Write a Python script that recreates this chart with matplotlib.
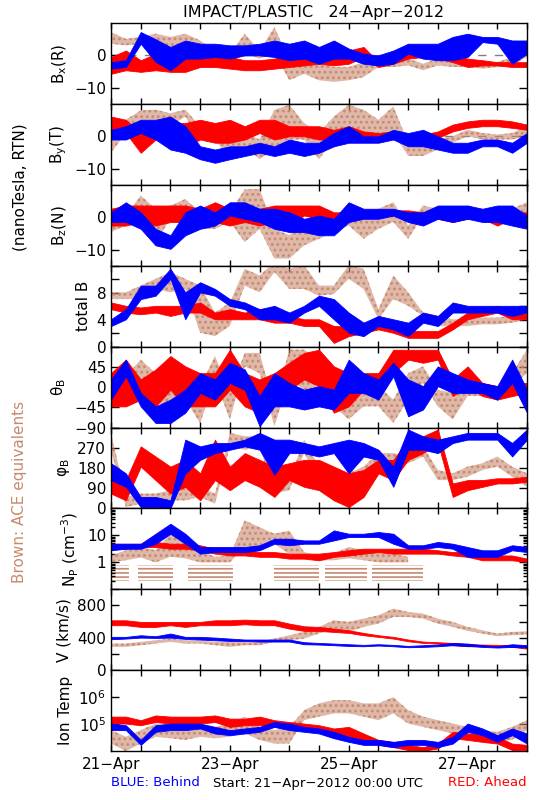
import numpy as np
import matplotlib
matplotlib.use("Agg")
import matplotlib.pyplot as plt
from matplotlib.ticker import LogLocator, NullFormatter

BLUE, RED, BROWN = "#0000ff", "#ff0000", "#c8896e"

# sample times: days since 21-Apr-2012 00:00 UTC, every 6 h
days = np.arange(29) * 0.25
day_ticks = [0, 2, 4, 6]
day_labels = ["21\u2212Apr", "23\u2212Apr", "25\u2212Apr", "27\u2212Apr"]

# envelopes (lo, hi); blue = STEREO Behind, red = Ahead,
# brown = ACE
bx_blue_lo = [-4.1, -3.6, 3.6, -2.0, -4.6, -1.0, -1.0, -0.5, -1.0, 0.0, 0.0, -0.5, -1.5, -1.0, -2.6,
              -1.0, -1.0, -2.6, -3.1, -2.6, 0.5, -1.0, -1.5, -1.5, -0.5, 4.1, 3.6, -2.6, 0.5]
bx_blue_hi = [-2.1, -1.5, 7.2, 5.0, 2.6, 4.6, 3.6, 3.6, 3.1, 3.1, 3.6, 4.6, 3.6, 4.6, 2.6,
              4.6, 2.1, 0.5, 0.0, 1.5, 3.6, 3.6, 3.6, 5.7, 6.7, 5.7, 5.7, 4.6, 4.6]
bx_red_lo = [-5.7, -4.6, -5.1, -4.6, -5.1, -5.1, -3.6, -3.6, -4.1, -4.6, -4.6, -4.1, -3.6, -3.1, -2.6,
             -3.1, -2.6, -0.5, -3.6, -2.6, -1.0, -0.5, -1.0, -2.1, -3.6, -3.1, -3.1, -3.6, -3.6]
bx_red_hi = [-0.5, 1.5, -1.5, 0.5, -1.5, 0.5, 0.0, 0.5, -0.5, -1.5, -1.5, -1.0, 0.5, 0.5, 1.0,
             0.5, 1.5, 2.6, -2.1, 0.0, 1.0, 1.5, 1.0, 0.0, -1.0, -1.5, -2.1, -2.1, -2.1]
bx_ace_lo = [3.6, 3.1, 3.6, 3.6, 1.5, 3.6, 1.5, -1.5, -2.6, 0.5, -1.0, 0.5, -7.7, -5.7, -7.7,
             -8.2, -7.7, -6.7, -3.6, -3.6, -3.1, -4.6, -3.1, -3.6, -3.6, -4.1, -3.6, -3.1, -0.5]
bx_ace_hi = [7.2, 5.1, 5.7, 6.7, 5.7, 6.7, 4.6, 1.5, 0.5, 6.7, 1.5, 8.7, -1.5, -0.5, -2.6,
             -3.6, -3.6, -2.1, -1.0, -1.5, -1.0, -2.6, -1.0, -1.5, -1.5, -2.6, -2.1, -0.5, 2.6]

by_blue_lo = [-1.0, -1.0, 1.0, -1.0, -4.1, -5.1, -7.1, -8.2, -7.1, -6.1, -5.1, -6.1, -5.1, -6.1, -5.1,
              -3.1, -2.0, -2.0, -2.0, -1.0, -3.1, -3.1, -4.1, -5.1, -5.1, -3.1, -3.1, -5.1, -2.0]
by_blue_hi = [2.0, 3.1, 5.1, 5.1, 6.1, 3.1, -3.1, -4.1, -3.1, -3.1, -2.0, -3.1, -1.0, -2.0, -2.0,
              1.0, 3.1, 0.0, 0.0, 2.0, 1.0, 2.0, 0.0, -2.0, -2.0, -1.0, -1.0, -2.0, 1.0]
by_red_lo = [1.0, 1.0, -5.1, -1.0, -2.0, -3.1, -1.0, -2.0, -2.0, -1.0, 1.0, -1.0, 0.0, 0.0, -1.0,
             -1.0, 0.0, -0.5, -1.0, -0.5, -1.0, -1.0, -0.5, 1.5, 2.6, 3.1, 3.1, 2.6, 2.0]
by_red_hi = [6.1, 5.1, 1.0, 4.1, 4.1, 4.1, 5.1, 4.1, 5.1, 3.1, 5.1, 5.1, 3.1, 3.1, 3.1,
             2.0, 3.1, 1.5, 1.0, 1.5, 0.5, 0.5, 1.5, 3.6, 4.6, 5.1, 5.1, 4.6, 3.6]
by_ace_lo = [-5.1, 1.0, 3.6, 5.1, 3.1, 6.1, -1.0, -1.0, -7.1, -3.1, -7.1, -4.1, -1.0, -1.0, -7.1,
             -1.0, 1.0, 1.0, -1.0, 1.0, -6.1, -6.1, -4.1, -2.0, 0.0, -1.0, -1.0, -1.0, 0.0]
by_ace_hi = [1.0, 5.1, 8.0, 8.2, 7.1, 8.2, 3.1, 3.1, 3.1, 1.0, -1.0, 8.2, 9.7, 4.1, 1.0,
             6.1, 9.7, 8.2, 5.1, 9.2, -2.0, -3.1, -1.0, 0.0, 2.0, 1.0, 0.5, 1.0, 3.1]

bz_blue_lo = [-1.5, -1.5, -3.6, -8.7, -9.8, -5.6, -3.6, -2.6, 0.5, -0.5, -1.5, -3.6, -4.6, -4.6, -5.6,
              -5.6, -1.5, -0.5, -0.5, 0.5, -1.5, -2.6, -0.5, -1.5, -0.5, -1.5, -1.5, -2.6, -3.6]
bz_blue_hi = [1.5, 4.6, 1.5, -3.6, -5.6, 1.5, 3.6, 1.5, 4.6, 4.6, 2.6, 2.6, 1.5, -0.5, 0.5,
              -0.5, 4.6, 2.6, 2.6, 2.6, 1.5, 1.5, 3.6, 3.6, 3.6, 2.6, 3.6, 3.6, 0.5]
bz_red_lo = [-2.6, -2.6, -1.5, -2.6, -1.5, -1.5, -1.5, -1.5, -2.6, -1.5, -2.6, -1.5, -1.5, 0.5, -0.5,
             -0.5, -0.5, 0.0, 0.0, 0.5, 0.0, 0.0, -0.5, -1.5, -0.5, -0.5, -2.6, -0.5, 0.0]
bz_red_hi = [2.6, 3.6, 3.6, 3.6, 3.6, 3.6, 2.6, 4.6, 2.6, 2.6, 2.6, 3.6, 3.6, 3.6, 3.6,
             1.5, 1.5, 1.5, 1.5, 2.1, 2.1, 1.5, 1.5, 1.5, 3.6, 1.5, 1.5, 1.5, 1.5]
bz_ace_lo = [-4.6, -2.6, 1.5, -7.8, -0.5, 0.5, -3.6, -3.6, -1.5, -7.7, -3.6, -12.8, -12.8, -8.7, -6.7,
             -4.6, -2.6, -6.7, -3.6, -1.5, -6.7, 0.5, -0.5, -1.5, -0.5, -1.5, -1.5, -0.5, 1.5]
bz_ace_hi = [1.5, 0.5, 6.7, 2.6, 3.6, 5.6, 1.5, 0.5, 1.5, 8.6, 8.7, -3.6, -5.6, -1.5, 1.5,
             0.5, 1.5, 1.5, 2.6, 4.6, -2.6, 3.6, 2.6, 1.5, 1.5, 1.5, 1.5, 2.6, 4.6]

bt_blue_lo = [3.05, 4.05, 7.05, 7.55, 10.05, 4.05, 8.05, 7.55, 6.05, 5.55, 4.05, 4.05, 3.55, 5.05, 6.05,
              4.05, 2.05, 1.55, 3.05, 2.55, 1.55, 3.55, 3.05, 5.05, 5.05, 5.05, 5.05, 4.55, 5.05]
bt_blue_hi = [4.05, 5.55, 9.05, 9.05, 11.55, 8.05, 9.55, 8.55, 7.05, 6.55, 5.55, 6.05, 5.05, 6.05, 7.55,
              7.05, 5.05, 3.55, 4.55, 4.05, 3.55, 5.05, 4.55, 6.55, 6.05, 6.05, 6.05, 6.05, 6.05]
bt_red_lo = [5.55, 5.05, 4.8, 5.05, 4.55, 5.05, 5.05, 4.05, 4.05, 4.05, 4.05, 3.55, 3.55, 3.05, 3.05,
             0.55, 1.55, 2.05, 2.55, 2.05, 1.3, 1.3, 1.3, 2.55, 4.05, 4.55, 5.05, 4.05, 4.05]
bt_red_hi = [6.55, 6.05, 5.8, 6.05, 6.05, 6.05, 6.55, 5.05, 5.55, 5.05, 5.55, 5.05, 4.55, 4.05, 4.05,
             3.05, 3.05, 3.55, 4.05, 3.05, 2.3, 2.3, 2.3, 3.55, 5.05, 5.55, 6.05, 5.05, 4.8]
bt_ace_lo = [7.05, 7.05, 7.05, 8.55, 8.05, 8.55, 2.05, 1.55, 3.05, 9.05, 8.05, 11.05, 8.55, 8.55, 7.55,
             7.8, 10.05, 8.55, 4.05, 7.05, 6.05, 4.55, 3.05, 3.05, 3.05, 3.3, 3.3, 3.55, 4.05]
bt_ace_hi = [8.05, 8.05, 9.05, 10.05, 11.05, 10.05, 9.05, 5.05, 6.55, 11.55, 10.55, 12.55, 11.55, 12.05, 9.05,
             9.05, 12.05, 11.55, 5.55, 10.55, 8.05, 5.05, 4.55, 4.05, 4.05, 4.3, 4.3, 4.55, 5.05]

th_blue_lo = [-28, 24, -43, -80, -80, -57, -13, -28, 9, -6, -87, -43, -43, -50, -43,
              -50, -13, -13, -28, 24, -65, -50, 2, -13, -13, -13, -28, 9, -57]
th_blue_hi = [17, 61, -13, -43, -28, -6, 31, 17, 54, 39, -20, 31, 9, -6, 2,
              -6, 61, 31, 17, 54, 17, 2, 46, 31, 17, 9, 2, 61, -6]
th_red_lo = [-43, -43, -28, -43, -6, -43, -43, -43, -6, -43, -57, -28, -6, 17, 2,
             -57, -43, -6, -13, 31, 61, 54, 61, -20, 2, -20, -28, -20, -13]
th_red_hi = [31, 61, 17, 39, 69, 46, 31, 31, 83, 31, 17, 31, 54, 76, 83,
             46, 31, 31, 31, 83, 83, 83, 83, 17, 46, 9, 2, 9, 9]
th_ace_lo = [-13, -6, 17, -28, -57, -28, -80, 17, -72, 46, 31, -87, 17, -6, -43,
             -43, -72, -43, -43, -80, -28, 9, -43, -72, -20, -20, -28, 2, 31]
th_ace_hi = [31, 24, 61, 31, 17, 31, 2, 69, -13, 76, 76, -43, 83, 83, 61,
             9, -13, 17, 2, -28, 31, 46, -6, -13, 9, 2, 2, 31, 83]

ph_blue_lo = [126, 96, 6, 6, 0, 156, 216, 246, 261, 276, 261, 150, 246, 246, 231,
              246, 156, 231, 216, 96, 261, 261, 246, 291, 306, 306, 306, 231, 306]
ph_blue_hi = [201, 156, 51, 51, 36, 306, 276, 291, 291, 306, 336, 306, 306, 291, 276,
              291, 306, 291, 261, 186, 351, 321, 306, 321, 336, 336, 336, 291, 351]
ph_red_lo = [66, 36, 186, 126, 66, 96, 36, 126, 81, 126, 96, 51, 126, 96, 81,
             36, 6, 51, 156, 126, 216, 246, 291, 51, 81, 96, 111, 111, 119]
ph_red_hi = [186, 126, 276, 231, 186, 216, 156, 306, 186, 246, 216, 186, 201, 216, 216,
             186, 156, 171, 216, 216, 306, 321, 351, 111, 126, 126, 134, 134, 141]
ph_ace_lo = [261, 6, 21, 36, 36, 36, 51, 21, 276, 261, 276, 66, 81, 246, 126,
             96, 96, 126, 186, 186, 201, 231, 126, 126, 141, 171, 186, 141, 96]
ph_ace_hi = [336, 51, 66, 66, 81, 96, 96, 66, 336, 321, 321, 126, 126, 306, 186,
             126, 156, 186, 246, 246, 231, 276, 171, 156, 186, 201, 231, 186, 156]

nan = np.nan
np_blue_lo = [2.8, 3.2, 3.2, 4.9, 11.5, 4.9, 2.1, 2.4, 2.4, 2.4, 2.8, 4.9, 4.3, 4.9, 4.9,
              6.5, 8.7, 8.7, 8.7, 4.9, 3.2, 3.2, 3.7, 3.2, 1.6, 1.6, 1.6, 2.8, 2.4]
np_blue_hi = [4.9, 4.9, 4.9, 11.5, 27.0, 11.5, 3.7, 3.7, 3.7, 3.7, 4.3, 7.5, 7.5, 6.5, 6.5,
              15.3, 11.5, 11.5, 13.3, 11.5, 4.3, 4.3, 5.7, 4.9, 3.7, 2.8, 2.8, 4.3, 3.7]
np_red_lo = [3.2, 3.2, 3.7, 3.7, 3.2, 3.2, 2.8, 2.1, 1.8, 1.8, 1.6, 1.6, 1.37, 1.37, 1.19,
             1.6, 1.8, 2.1, 2.4, 2.1, 2.1, 2.1, 2.1, 1.8, 1.6, 1.19, 1.19, 1.19, 1.03]
np_red_hi = [4.9, 4.9, 4.9, 5.7, 4.9, 4.9, 4.3, 3.2, 2.8, 2.8, 2.4, 2.4, 2.1, 2.1, 2.1,
             2.4, 2.8, 3.2, 3.2, 3.2, 3.2, 3.2, 2.8, 2.4, 2.4, 1.8, 1.8, 1.8, 1.37]
np_ace_lo = [1.0, 1.2, 1.5, 1.0, 1.6, 1.4, 1.0, 1.0, 1.0, 3.7, 3.7, 4.9, 2.0, 1.4, 1.2,
             1.2, 1.4, 1.2, 1.0, 1.0, 1.0, nan, nan, nan, nan, nan, nan, nan, nan]
np_ace_hi = [1.8, 2.8, 3.7, 2.8, 11.5, 6.5, 2.8, 1.6, 1.8, 36.0, 20.0, 11.5, 15.0, 2.4, 1.8,
             2.1, 3.7, 2.8, 2.8, 2.1, 1.6, nan, nan, nan, nan, nan, nan, nan, nan]
# ACE low-density floor (quantised values), day ranges where it shows
np_ace_floor = (0.2, 0.8)
np_ace_floor_days = [(0.0, 0.3), (0.45, 1.05), (1.3, 2.05), (2.75, 3.5), (3.6, 4.3), (4.4, 5.25)]

v_blue_lo = [383, 391, 403, 399, 403, 387, 379, 370, 362, 362, 354, 354, 354, 321, 317,
             309, 300, 296, 305, 296, 284, 288, 296, 309, 300, 288, 280, 288, 280]
v_blue_hi = [412, 412, 432, 420, 453, 412, 412, 403, 391, 379, 379, 379, 379, 346, 337,
             329, 321, 313, 321, 313, 300, 309, 317, 337, 329, 309, 296, 321, 309]
v_red_lo = [556, 556, 535, 535, 556, 535, 556, 556, 556, 568, 556, 556, 514, 486, 486,
            473, 461, 432, 412, 391, 358, 337, 329, 309, 296, 300, 296, 288, 267]
v_red_hi = [617, 617, 597, 597, 597, 597, 597, 617, 617, 625, 617, 617, 576, 543, 535,
            514, 494, 461, 432, 412, 379, 354, 346, 337, 321, 317, 313, 309, 300]
v_ace_lo = [288, 288, 309, 329, 350, 329, 329, 309, 288, 309, 309, 350, 370, 391, 453,
            514, 473, 535, 576, 658, 658, 638, 576, 535, 486, 453, 420, 432, 440]
v_ace_hi = [329, 329, 350, 370, 391, 370, 370, 350, 350, 350, 350, 391, 432, 473, 535,
            617, 597, 638, 679, 761, 720, 700, 638, 597, 535, 494, 453, 473, 481]

t_blue_lo = [6.0e4, 6.0e4, 1.7e4, 5.2e4, 6.0e4, 6.0e4, 6.9e4, 4.5e4, 3.9e4, 4.5e4, 5.2e4, 7.9e4, 6.0e4, 5.2e4, 4.5e4,
             3.0e4, 2.2e4, 1.7e4, 1.7e4, 1.4e4, 1.7e4, 1.7e4, 1.4e4, 1.9e4, 5.2e4, 3.9e4, 2.2e4, 3.9e4, 1.9e4]
t_blue_hi = [1.05e5, 9.1e4, 2.6e4, 9.1e4, 1.05e5, 1.05e5, 1.05e5, 7.9e4, 6.0e4, 6.9e4, 7.9e4, 1.2e5, 1.05e5, 7.9e4, 6.9e4,
             5.2e4, 3.4e4, 2.6e4, 2.6e4, 2.2e4, 2.6e4, 2.6e4, 2.2e4, 3.4e4, 1.05e5, 6.9e4, 3.9e4, 6.9e4, 4.5e4]
t_red_lo = [1.05e5, 1.05e5, 9.1e4, 1.2e5, 1.05e5, 1.05e5, 1.05e5, 1.2e5, 7.9e4, 9.1e4, 9.1e4, 7.9e4, 6.9e4, 6.0e4, 5.2e4,
            3.9e4, 3.0e4, 2.6e4, 1.7e4, 1.4e4, 1.1e4, 1.02e4, 1.26e4, 3.0e4, 2.6e4, 2.2e4, 1.9e4, 1.1e4, 1.1e4]
t_red_hi = [1.9e5, 1.9e5, 1.4e5, 2.1e5, 1.9e5, 1.9e5, 1.9e5, 2.1e5, 1.6e5, 1.6e5, 1.9e5, 1.4e5, 1.2e5, 1.05e5, 9.1e4,
            6.9e4, 7.9e4, 4.5e4, 2.6e4, 2.2e4, 1.7e4, 1.4e4, 1.9e4, 5.2e4, 4.5e4, 3.9e4, 3.4e4, 1.9e4, 1.7e4]
t_ace_lo = [1.9e4, 1.0e4, 1.9e4, 3.4e4, 3.0e4, 2.6e4, 3.4e4, 3.0e4, 3.4e4, 4.5e4, 2.6e4, 1.9e4, 1.9e4, 1.4e5, 1.9e5,
            2.5e5, 2.5e5, 1.9e5, 1.4e5, 2.5e5, 1.05e5, 7.9e4, 6.0e4, 4.5e4, 3.4e4, 2.6e4, 2.2e4, 2.6e4, 6.0e4]
t_ace_hi = [6.0e4, 3.4e4, 6.0e4, 1.05e5, 9.1e4, 7.9e4, 7.9e4, 7.9e4, 1.05e5, 1.9e5, 7.9e4, 6.0e4, 7.9e4, 3.3e5, 5.9e5,
            7.8e5, 7.8e5, 5.9e5, 5.9e5, 1.0e6, 3.3e5, 1.9e5, 1.4e5, 1.05e5, 7.9e4, 6.0e4, 5.2e4, 7.9e4, 1.4e5]

M = "\u2212"
panels = [
    dict(label=r"B$_\mathregular{x}$(R)", ylim=(-15, 10), ticks=[-10, 0], tl=[M + "10", "0"], zero=True,
         data=[(bx_ace_lo, bx_ace_hi), (bx_red_lo, bx_red_hi), (bx_blue_lo, bx_blue_hi)]),
    dict(label=r"B$_\mathregular{y}$(T)", ylim=(-15, 10), ticks=[-10, 0], tl=[M + "10", "0"], zero=True,
         data=[(by_ace_lo, by_ace_hi), (by_red_lo, by_red_hi), (by_blue_lo, by_blue_hi)]),
    dict(label=r"B$_\mathregular{z}$(N)", ylim=(-15, 10), ticks=[-10, 0], tl=[M + "10", "0"], zero=True,
         data=[(bz_ace_lo, bz_ace_hi), (bz_red_lo, bz_red_hi), (bz_blue_lo, bz_blue_hi)]),
    dict(label="total B", ylim=(0, 12), ticks=[0, 2, 4, 6, 8, 10, 12], tl=["0", "", "4", "", "8", "", ""],
         data=[(bt_ace_lo, bt_ace_hi), (bt_red_lo, bt_red_hi), (bt_blue_lo, bt_blue_hi)]),
    dict(label=r"θ$_\mathregular{B}$", ylim=(-90, 90), ticks=[-90, -45, 0, 45, 90],
         tl=[M + "90", M + "45", "0", "45", ""],
         data=[(th_ace_lo, th_ace_hi), (th_red_lo, th_red_hi), (th_blue_lo, th_blue_hi)]),
    dict(label=r"φ$_\mathregular{B}$", ylim=(0, 360), ticks=[0, 90, 180, 270, 360],
         tl=["0", "90", "180", "270", ""],
         data=[(ph_ace_lo, ph_ace_hi), (ph_red_lo, ph_red_hi), (ph_blue_lo, ph_blue_hi)]),
    dict(label=r"N$_\mathregular{P}$ (cm$^\mathregular{" + M + "3}$)", ylim=(0.1, 100), log=True,
         ticks=[1, 10], tl=["1", "10"],
         data=[(np_ace_lo, np_ace_hi), (np_red_lo, np_red_hi), (np_blue_lo, np_blue_hi)]),
    dict(label="V (km/s)", ylim=(0, 1000), ticks=[0, 200, 400, 600, 800, 1000],
         tl=["0", "", "400", "", "800", ""],
         data=[(v_ace_lo, v_ace_hi), (v_red_lo, v_red_hi), (v_blue_lo, v_blue_hi)]),
    dict(label="Ion Temp", ylim=(1e4, 1e7), log=True, ticks=[1e5, 1e6],
         tl=[r"10$^\mathregular{5}$", r"10$^\mathregular{6}$"],
         data=[(t_ace_lo, t_ace_hi), (t_red_lo, t_red_hi), (t_blue_lo, t_blue_hi)]),
]

plt.rcParams["font.family"] = ["DejaVu Sans"]
plt.rcParams["hatch.linewidth"] = 1.2
fig = plt.figure(figsize=(5.5, 8), dpi=100)
L, R, TOP, H = 111 / 550, 527 / 550, 23 / 800, 80.9 / 800
xt = np.arange(0, 7.01, 0.5)

for i, p in enumerate(panels):
    ax = fig.add_axes([L, 1 - TOP - (i + 1) * H, R - L, H])
    if p.get("log"):
        ax.set_yscale("log")
    (alo, ahi), (rlo, rhi), (blo, bhi) = p["data"]
    # ACE: sparse dots, drawn as a light dotted band under the STEREO traces
    ax.fill_between(days, alo, ahi, facecolor=BROWN, alpha=0.6, lw=0, zorder=2)
    ax.fill_between(days, alo, ahi, facecolor="none", edgecolor=BROWN, hatch="...", lw=0, zorder=2)
    ax.fill_between(days, rlo, rhi, color=RED, lw=0.6, zorder=3)
    ax.fill_between(days, blo, bhi, color=BLUE, lw=0.6, zorder=4)
    if i == 6:
        for d0, d1 in np_ace_floor_days:
            ax.fill_between([d0, d1], *np_ace_floor, facecolor="none", edgecolor=BROWN,
                            hatch="----", lw=0, zorder=1)
    if p.get("zero"):
        ax.axhline(0, color="gray", lw=1, ls=(0, (6, 6)), zorder=1)
    ax.set_xlim(0, 7)
    ax.set_ylim(*p["ylim"])
    ax.set_yticks(p["ticks"])
    ax.set_yticklabels(p["tl"])
    if p.get("log"):
        ax.yaxis.set_minor_locator(LogLocator(base=10, subs=np.arange(2, 10)))
        ax.yaxis.set_minor_formatter(NullFormatter())
    ax.set_xticks(xt)
    if i == len(panels) - 1:
        ax.set_xticklabels([day_labels[day_ticks.index(d)] if d in day_ticks else "" for d in xt])
    else:
        ax.set_xticklabels([])
    ax.tick_params(axis="both", which="both", direction="in", top=True, right=True,
                   labelsize=11, width=1)
    ax.tick_params(axis="y", which="major", length=6)
    ax.tick_params(axis="y", which="minor", length=3)
    ax.tick_params(axis="x", length=4, pad=4)
    ax.set_ylabel(p["label"], fontsize=11, labelpad=4)
    for sp in ax.spines.values():
        sp.set_linewidth(1)
        sp.set_zorder(5)

fig.text(0.57, 0.985, "IMPACT/PLASTIC   24\u2212Apr\u22122012", ha="center", va="center", fontsize=11.5)
fig.text(0.036, 1 - 187 / 800, "(nanoTesla, RTN)", rotation=90, ha="center", va="center", fontsize=11)
fig.text(0.036, 1 - 492 / 800, "Brown: ACE equivalents", rotation=90, ha="center", va="center",
         fontsize=11, color=BROWN)
fig.text(L, 1 - 783 / 800, "BLUE: Behind", ha="left", va="center", fontsize=9.5, color=BLUE)
fig.text(0.579, 1 - 783 / 800, "Start: 21\u2212Apr\u22122012 00:00 UTC", ha="center", va="center",
         fontsize=9.5)
fig.text(R, 1 - 783 / 800, "RED: Ahead", ha="right", va="center", fontsize=9.5, color=RED)

fig.savefig("out.png", dpi=100)
